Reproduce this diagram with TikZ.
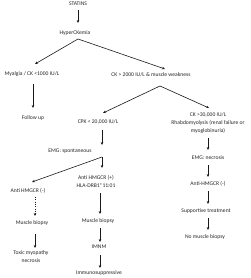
\documentclass[tikz,border=0pt]{standalone}
\usepackage{fontspec}
\setmainfont{Carlito}
\usetikzlibrary{arrows.meta,calc}
\begin{document}
\begin{tikzpicture}[x=1pt,y=-1pt,
  font=\fontsize{5.6}{8}\selectfont,
  txt/.style={inner sep=0pt, align=center, text=black!85},
  ln/.style={line width=0.6pt, draw=black!90},
  arr/.style={ln, -{Stealth[length=3pt,width=2.6pt]}},
  dotarr/.style={arr, dash pattern=on 0.9pt off 1.4pt}]
\useasboundingbox (0,0) rectangle (250,278);
\fill[white] (0,0) rectangle (250,278);
% nodes
\node[txt] (statins) at (78,4) {STATINS};
\node[txt] (hyper) at (75,33) {HyperCKemia};
\node[txt] (myalgia) at (32,74) {Myalgia / CK <1000 IU/L};
\node[txt] (follow) at (33,118) {Follow up};
\node[txt] (ck2000) at (151,75) {CK > 2000 IU/L \& muscle weakness};
\node[txt] (cpk) at (98,122) {CPK < 20,000 IU/L};
\node[txt] (ck30) at (208,123) {CK >30,000 IU/L\\Rhabdomyolysis (renal failure or\\myoglobinuria)};
\node[txt] (emgs) at (70,151) {EMG: spontaneous};
\node[txt] (antineg) at (28,191) {Anti HMGCR (-)};
\node[txt] (antipos) at (96,181) {Anti HMGCR (+)\\HLA-DRB1*11:01};
\node[txt] (mb1) at (32,223) {Muscle biopsy};
\node[txt, font=\fontsize{5.6}{7.5}\selectfont] (toxic) at (31,256.5) {Toxic myopathy\\necrosis};
\node[txt] (mb2) at (98,221) {Muscle biopsy};
\node[txt] (imnm) at (99,247) {IMNM};
\node[txt] (immuno) at (99,273) {Immunosuppressive};
\node[txt] (emgn) at (208,158) {EMG: necrosis};
\node[txt] (antir) at (208,184) {Anti-HMGCR (-)};
\node[txt] (support) at (206,211) {Supportive treatment};
\node[txt] (nomb) at (205,237) {No muscle biopsy};
% branch points
\coordinate (apexA) at ($(hyper)+(3,6)$);
\coordinate (apexB) at ($(ck2000)+(9,11)$);
\coordinate (apexC) at ($(emgs)+(32,6)$);
% connectors
\draw[arr] ($(statins)+(0,6)$) -- ($(hyper)+(3,-10)$);
\draw[arr] (apexA) -- ($(myalgia)+(3,-10)$);
\draw[arr] (apexA) -- ($(ck2000)+(14,-6)$);
\draw[arr] ($(myalgia)+(1,10)$) -- ($(follow)+(0,-10)$);
\draw[arr] (apexB) -- ($(cpk)+(5,-9)$);
\draw[arr] (apexB) -- ($(ck30)+(1,-15)$);
\draw[arr] ($(cpk)+(4,8)$) -- ($(emgs)+(32,-6)$);
\draw[arr] (apexC) -- ($(antipos)+(6,-13)$);
\draw[arr] (apexC) -- ($(antineg)+(4,-9)$);
\draw[dotarr] ($(antineg)+(7,6)$) -- ($(mb1)+(3,-7)$);
\draw[arr] ($(mb1)+(3,11)$) -- ($(toxic)+(4,-8.5)$);
\draw[arr] ($(antipos)+(4,12)$) -- ($(mb2)+(2,-7)$);
\draw[arr] ($(mb2)+(2,7)$) -- ($(imnm)+(1,-5)$);
\draw[arr] ($(imnm)+(1,8)$) -- ($(immuno)+(1,-5)$);
\draw[arr] ($(ck30)+(0,15)$) -- ($(emgn)+(0,-8)$);
\draw[arr] ($(emgn)+(0,7)$) -- ($(antir)+(0,-7)$);
\draw[arr] ($(antir)+(0,7)$) -- ($(support)+(2,-7)$);
\draw[arr] ($(support)+(2,7)$) -- ($(nomb)+(3,-7)$);
\end{tikzpicture}
\end{document}
